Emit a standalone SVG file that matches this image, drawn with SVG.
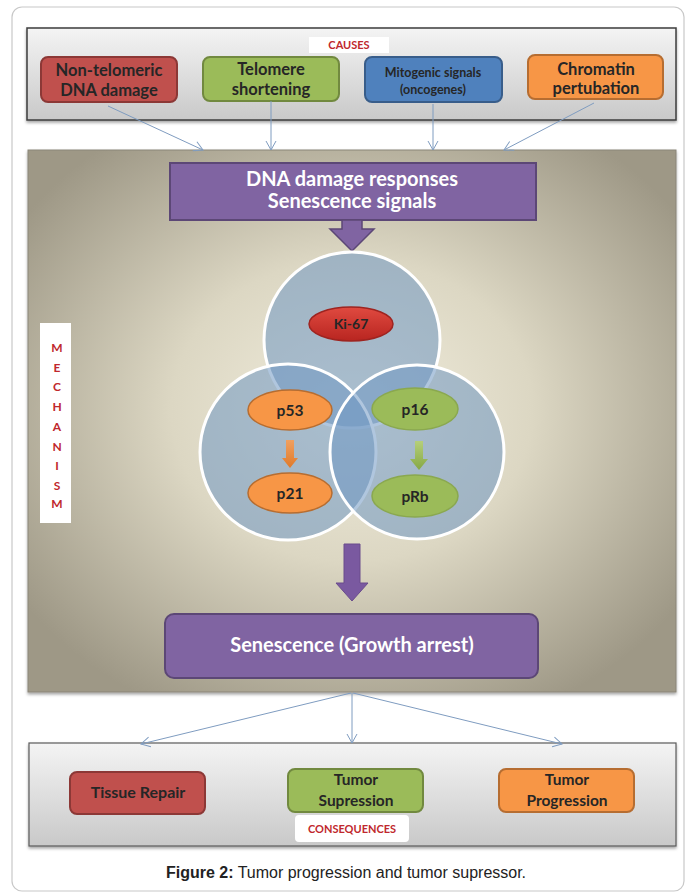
<svg xmlns="http://www.w3.org/2000/svg" width="692" height="896" viewBox="0 0 692 896">
<defs>
<linearGradient id="gPanel" x1="0" y1="0" x2="0" y2="1">
<stop offset="0" stop-color="#f4f4f4"/><stop offset="1" stop-color="#c9c9c9"/>
</linearGradient>
<radialGradient id="gMech" cx="0.5" cy="0.48" r="0.62">
<stop offset="0" stop-color="#f1eddd"/><stop offset="0.45" stop-color="#dcd7c3"/><stop offset="1" stop-color="#9e9886"/>
</radialGradient>
<linearGradient id="gKi" x1="0" y1="0" x2="0" y2="1"><stop offset="0" stop-color="#e04a40"/><stop offset="1" stop-color="#b82520"/></linearGradient>
<linearGradient id="gOrA" x1="0" y1="0" x2="0" y2="1"><stop offset="0" stop-color="#f0a060"/><stop offset="1" stop-color="#e07a2a"/></linearGradient>
<linearGradient id="gGrA" x1="0" y1="0" x2="0" y2="1"><stop offset="0" stop-color="#b5cf7a"/><stop offset="1" stop-color="#86a844"/></linearGradient>
<marker id="ah" markerWidth="12" markerHeight="12" refX="10" refY="6" orient="auto" markerUnits="userSpaceOnUse">
<path d="M1,1 L10,6 L1,11" fill="none" stroke="#7f9cc0" stroke-width="1"/>
</marker>
<filter id="sh" x="-5%" y="-5%" width="110%" height="120%"><feDropShadow dx="0" dy="2" stdDeviation="1.5" flood-color="#000" flood-opacity="0.35"/></filter>
</defs>
<style>
.box{stroke-width:2}
.t{font-family:Lato,"Liberation Sans",sans-serif;font-weight:bold;text-anchor:middle;fill:#262626}
.tw{font-family:Lato,"Liberation Sans",sans-serif;font-weight:bold;text-anchor:middle;fill:#ffffff}
.lab{font-family:Lato,"Liberation Sans",sans-serif;font-weight:bold;text-anchor:middle;fill:#c0282d}
.conn{stroke:#7f9cc0;stroke-width:1;fill:none}
.circ{fill:#6f97c3;fill-opacity:0.55;stroke:#ffffff;stroke-width:3}
</style>

<rect x="12" y="7" width="672" height="884" rx="10" fill="#ffffff" stroke="#c8c8c8" stroke-width="1.2"/>

<!-- Causes panel -->
<g id="causes">
<rect x="27" y="28" width="649" height="92" fill="url(#gPanel)" stroke="#3c3c3c" stroke-width="1.5" filter="url(#sh)"/>
<rect x="309" y="37" width="80" height="16" fill="#ffffff"/>
<text class="lab" x="349" y="49" font-size="11">CAUSES</text>
</g>
<g id="non-telomeric">
<rect class="box" x="41" y="57" width="136" height="45" rx="7" fill="#c0504d" stroke="#8c3836"/>
<text class="t" x="109" y="76" font-size="16.5">Non-telomeric</text>
<text class="t" x="109" y="96" font-size="16.5">DNA damage</text>
</g>
<g id="telomere">
<rect class="box" x="203" y="57" width="136" height="44" rx="7" fill="#9bbb59" stroke="#71893f"/>
<text class="t" x="271" y="75" font-size="16.5">Telomere</text>
<text class="t" x="271" y="95" font-size="16.5">shortening</text>
</g>
<g id="mitogenic">
<rect class="box" x="365" y="57" width="137" height="45" rx="7" fill="#4f81bd" stroke="#385d8a"/>
<text class="t" x="433" y="77" font-size="12.5">Mitogenic signals</text>
<text class="t" x="433" y="94" font-size="12.5">(oncogenes)</text>
</g>
<g id="chromatin">
<rect class="box" x="528" y="55" width="135" height="44" rx="7" fill="#f79646" stroke="#b66d31"/>
<text class="t" x="596" y="75" font-size="16.5">Chromatin</text>
<text class="t" x="596" y="94" font-size="16.5">pertubation</text>
</g>

<!-- Mechanism panel -->
<g id="mechanism">
<rect x="28" y="150" width="648" height="542" fill="url(#gMech)" stroke="#8a8578" stroke-width="1" filter="url(#sh)"/>
<rect x="40" y="323" width="31" height="200" fill="#ffffff"/>
<g class="lab" font-size="12">
<text x="57" y="352">M</text><text x="57" y="372">E</text><text x="57" y="391">C</text><text x="57" y="411">H</text><text x="57" y="431">A</text><text x="57" y="451">N</text><text x="57" y="470">I</text><text x="57" y="490">S</text><text x="57" y="508">M</text>
</g>
</g>

<g id="dna-damage">
<rect x="170" y="163" width="366" height="57" fill="#8064a2" stroke="#5c4776" stroke-width="2"/>
<text class="tw" x="352" y="186" font-size="20">DNA damage responses</text>
<text class="tw" x="352" y="208" font-size="20">Senescence signals</text>
<path d="M342,220 L362,220 L362,229 L374,229 L352,251 L330,229 L342,229 Z" fill="#8064a2" stroke="#5c4776" stroke-width="1.5"/>
</g>

<g id="circles">
<circle class="circ" cx="352" cy="340" r="88"/>
<circle class="circ" cx="288" cy="452" r="88"/>
<circle class="circ" cx="417" cy="452" r="87"/>
</g>

<g id="ki67">
<ellipse cx="351" cy="324" rx="42" ry="17" fill="url(#gKi)" stroke="#9e2420" stroke-width="1.5"/>
<text class="t" x="351" y="329" font-size="14" fill="#1a1a1a">Ki-67</text>
</g>
<g id="p53">
<ellipse cx="290" cy="410" rx="42" ry="20" fill="#f79646" stroke="#b66d31" stroke-width="1.5"/>
<text class="t" x="290" y="416" font-size="15.5">p53</text>
</g>
<g id="p21">
<ellipse cx="290" cy="493" rx="42" ry="20" fill="#f79646" stroke="#b66d31" stroke-width="1.5"/>
<text class="t" x="290" y="499" font-size="15.5">p21</text>
</g>
<g id="p16">
<ellipse cx="415" cy="409" rx="43" ry="21" fill="#9bbb59" stroke="#8aa84f" stroke-width="1.5"/>
<text class="t" x="415" y="415" font-size="15.5">p16</text>
</g>
<g id="pRb">
<ellipse cx="415" cy="496" rx="43" ry="21" fill="#9bbb59" stroke="#8aa84f" stroke-width="1.5"/>
<text class="t" x="415" y="502" font-size="15.5">pRb</text>
</g>
<path d="M286,440 L294,440 L294,458 L298,458 L290,468 L282,458 L286,458 Z" fill="url(#gOrA)"/>
<path d="M415,441 L423,441 L423,459 L428,459 L419,470 L410,459 L415,459 Z" fill="url(#gGrA)"/>

<g id="senescence">
<path d="M344,544 L360,544 L360,583 L368,583 L352,601 L336,583 L344,583 Z" fill="#7a59a0" stroke="#6a4c8c" stroke-width="1"/>
<rect x="165" y="614" width="373" height="64" rx="9" fill="#8064a2" stroke="#5c4776" stroke-width="2"/>
<text class="tw" x="352" y="652" font-size="20">Senescence (Growth arrest)</text>
</g>

<!-- Consequences panel -->
<g id="consequences">
<rect x="29" y="743" width="647" height="103" fill="url(#gPanel)" stroke="#5a5a5a" stroke-width="1.2" filter="url(#sh)"/>
<rect x="295" y="815" width="114" height="27" rx="4" fill="#ffffff"/>
<text class="lab" x="352" y="833" font-size="11">CONSEQUENCES</text>
</g>
<g id="tissue-repair">
<rect class="box" x="70" y="772" width="135" height="42" rx="7" fill="#c0504d" stroke="#8c3836"/>
<text class="t" x="138" y="798" font-size="16">Tissue Repair</text>
</g>
<g id="tumor-supression">
<rect class="box" x="288" y="769" width="135" height="43" rx="7" fill="#9bbb59" stroke="#71893f"/>
<text class="t" x="356" y="785" font-size="15.5">Tumor</text>
<text class="t" x="356" y="806" font-size="15.5">Supression</text>
</g>
<g id="tumor-progression">
<rect class="box" x="499" y="769" width="135" height="43" rx="7" fill="#f79646" stroke="#b66d31"/>
<text class="t" x="567" y="785" font-size="15.5">Tumor</text>
<text class="t" x="567" y="806" font-size="15.5">Progression</text>
</g>

<g id="connectors">
<line class="conn" x1="108" y1="106" x2="203" y2="150" marker-end="url(#ah)"/>
<line class="conn" x1="271" y1="101" x2="271" y2="150" marker-end="url(#ah)"/>
<line class="conn" x1="433" y1="104" x2="433" y2="150" marker-end="url(#ah)"/>
<line class="conn" x1="594" y1="103" x2="504" y2="150" marker-end="url(#ah)"/>
<line class="conn" x1="351" y1="693" x2="141" y2="744" marker-end="url(#ah)"/>
<line class="conn" x1="352" y1="693" x2="352" y2="743" marker-end="url(#ah)"/>
<line class="conn" x1="353" y1="693" x2="562" y2="744" marker-end="url(#ah)"/>
</g>

<text x="346" y="878" font-family="'Liberation Sans',Arial,sans-serif" font-size="16" text-anchor="middle" fill="#222"><tspan font-weight="bold">Figure 2:</tspan> Tumor progression and tumor supressor.</text>
</svg>
